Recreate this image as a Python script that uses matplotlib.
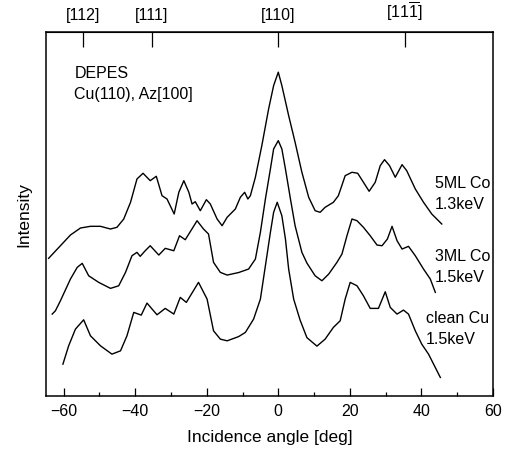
import numpy as np
import matplotlib.pyplot as plt

plt.rcParams['font.family'] = ['Liberation Sans', 'DejaVu Sans']
plt.rcParams['mathtext.fontset'] = 'custom'
plt.rcParams['mathtext.rm'] = 'Liberation Sans'

# 5ML Co, 1.3keV
ang_5ml = [-64.2, -60.9, -58.1, -55.3, -52.5, -49.7, -46.9, -45.1, -43.2, -41.3,
           -39.5, -37.8, -35.8, -34.1, -32.5, -31.1, -29.1, -27.8, -26.4, -25.0,
           -24.1, -23.2, -21.8, -20.1, -19.0, -17.1, -15.7, -14.3, -12.0, -10.6,
           -9.4, -8.5, -7.8, -6.4, -4.6, -2.7, -1.3, 0.0, 1.0, 2.9,
           4.7, 6.6, 8.5, 10.3, 11.7, 13.1, 15.4, 16.8, 18.7, 20.6,
           22.2, 23.8, 25.4, 27.1, 28.5, 29.7, 31.1, 32.7, 34.6, 35.9,
           38.3, 40.6, 42.9, 45.7]
int_5ml = [137.7, 150.3, 161.0, 168.0, 169.7, 169.7, 167.0, 168.7, 177.0, 193.7,
           217.0, 222.7, 215.3, 219.7, 200.3, 197.0, 182.0, 203.7, 215.3, 203.7,
           192.0, 194.3, 185.3, 196.3, 192.0, 177.0, 170.3, 178.7, 187.0, 198.7,
           203.7, 197.0, 200.3, 218.7, 250.3, 287.0, 310.3, 323.7, 310.3, 280.3,
           253.7, 223.7, 198.7, 185.3, 183.7, 188.7, 193.7, 200.3, 220.3, 223.7,
           222.7, 213.7, 204.7, 213.7, 230.3, 236.3, 230.3, 218.7, 231.3, 225.3,
           207.0, 193.7, 182.0, 172.0]

# 3ML Co, 1.5keV
ang_3ml = [-63.2, -62.3, -60.9, -58.1, -56.2, -54.8, -53.0, -50.2, -46.9, -44.6,
           -42.7, -40.9, -39.5, -38.6, -37.2, -35.8, -33.4, -31.6, -29.2, -27.6,
           -26.0, -22.7, -20.9, -19.5, -18.1, -16.2, -14.3, -11.1, -8.3, -6.4,
           -5.0, -3.6, -2.2, -1.3, 0.0, 1.0, 2.0, 3.4, 4.7, 6.6,
           8.0, 10.3, 12.2, 14.1, 16.4, 17.8, 19.2, 20.6, 22.0, 23.8,
           25.7, 27.6, 29.0, 30.5, 31.8, 33.2, 34.6, 36.4, 38.3, 40.6,
           42.5, 43.9]
int_3ml = [82.0, 85.3, 95.3, 117.0, 128.7, 132.7, 120.3, 113.7, 107.7, 110.3,
           123.7, 140.3, 143.7, 139.7, 145.3, 150.3, 141.0, 147.7, 145.3, 160.3,
           156.3, 175.3, 167.0, 162.0, 133.7, 123.7, 121.0, 123.5, 127.0, 137.0,
           163.7, 197.0, 227.0, 247.0, 255.3, 247.0, 227.0, 197.0, 170.3, 143.7,
           133.0, 120.3, 115.3, 122.0, 133.7, 142.0, 160.3, 177.0, 175.3, 168.7,
           160.3, 151.0, 150.3, 157.0, 169.7, 155.3, 147.0, 149.7, 140.3, 127.0,
           117.0, 103.7]

# clean Cu, 1.5keV
ang_cu = [-60.2, -58.6, -56.7, -54.4, -52.5, -49.7, -46.5, -44.1, -42.3, -40.4,
          -38.3, -36.7, -33.9, -31.6, -29.2, -27.4, -25.7, -22.3, -19.9, -18.1,
          -16.2, -14.3, -11.1, -9.2, -6.9, -5.0, -3.6, -2.2, -1.3, -0.3,
          1.0, 2.0, 2.9, 4.3, 6.1, 8.0, 10.8, 13.1, 15.4, 17.3,
          18.7, 20.1, 22.0, 23.8, 25.7, 28.0, 29.9, 31.3, 33.2, 35.0,
          36.4, 38.3, 40.1, 42.0, 45.3]
int_cu = [32.0, 50.3, 67.0, 76.3, 60.3, 50.3, 42.0, 45.3, 60.3, 83.7,
          81.0, 93.0, 81.3, 87.7, 82.0, 98.7, 93.7, 113.7, 97.0, 65.3,
          57.0, 55.3, 59.5, 63.7, 77.0, 97.0, 130.3, 163.7, 183.7, 193.7,
          180.3, 157.0, 127.0, 97.0, 76.0, 58.5, 50.0, 57.0, 68.7, 75.3,
          97.0, 113.7, 110.3, 100.3, 87.7, 87.7, 104.3, 88.7, 82.0, 86.0,
          82.0, 65.3, 52.0, 42.0, 18.7]

# crystal directions on the top axis
dir_angles = [-54.7, -35.3, 0.0, 35.3]
dir_labels = ['[112]', '[111]', '[110]', r'$\mathrm{[11\overline{1}]}$']

fig = plt.figure(figsize=(5.14, 4.56), dpi=100)
ax = fig.add_axes([0.089, 0.129, 0.870, 0.799])

for a, i in [(ang_5ml, int_5ml), (ang_3ml, int_3ml), (ang_cu, int_cu)]:
    ax.plot(a, i, color='black', linewidth=1.0, solid_joinstyle='round')

ax.set_xlim(-65, 60)
ax.set_ylim(0, 364)
ax.set_xticks(np.arange(-60, 61, 20))
ax.set_xticks(np.arange(-50, 60, 20), minor=True)
ax.tick_params(axis='x', which='major', direction='in', length=6, width=0.9,
               labelsize=11.5, top=False, pad=5)
ax.tick_params(axis='x', which='minor', direction='in', length=3, width=0.9, top=False)
ax.set_yticks([])
ax.set_xlabel('Incidence angle [deg]', fontsize=12.5, labelpad=8)
ax.set_ylabel('Intensity', fontsize=12.5, labelpad=10)
for s in ax.spines.values():
    s.set_linewidth(1.1)

top = ax.secondary_xaxis('top')
top.set_xticks(dir_angles)
top.set_xticklabels(dir_labels)
top.tick_params(direction='in', length=11, width=0.9, labelsize=11.5, pad=7)

ax.text(-57, 331, 'DEPES\nCu(110), Az[100]', fontsize=11.5, va='top',
        linespacing=1.5)
ax.text(43.8, 203, '5ML Co\n1.3keV', fontsize=11.5, va='center', linespacing=1.5)
ax.text(43.8, 130, '3ML Co\n1.5keV', fontsize=11.5, va='center', linespacing=1.5)
ax.text(41.3, 68, 'clean Cu\n1.5keV', fontsize=11.5, va='center', linespacing=1.5)

fig.savefig('out.png', dpi=100)
